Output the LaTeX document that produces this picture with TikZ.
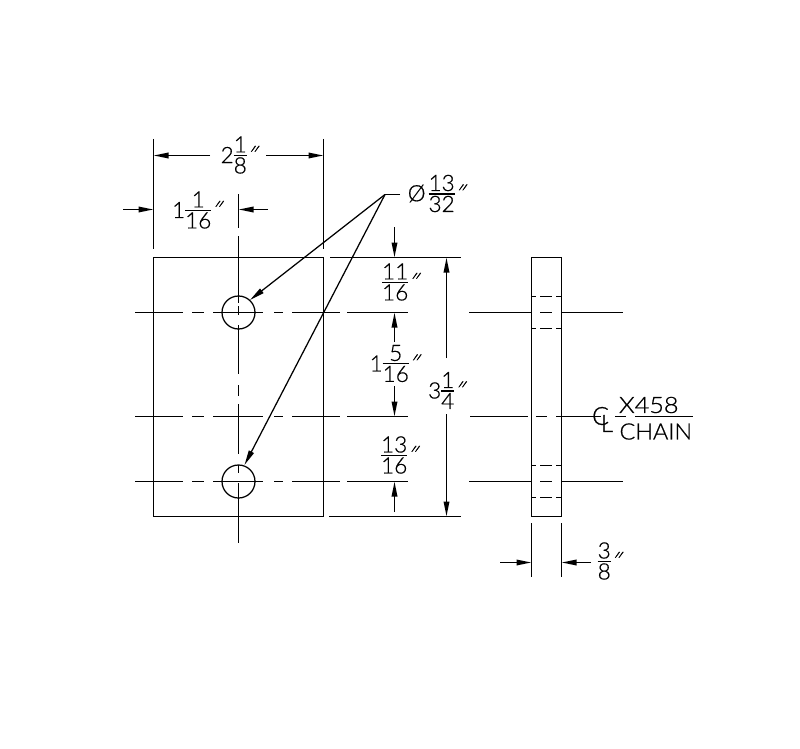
\documentclass[tikz,border=0pt]{standalone}
\usepackage{fontspec}
\usetikzlibrary{arrows.meta}
\setmainfont[FakeBold=0.6]{Lato Light}
\newfontfamily\cadmark[FakeSlant=0.45,FakeBold=1.2]{Lato Light}
\newcommand{\cadsize}{\fontsize{22.5}{24}\selectfont}
\newcommand{\cf}[2]{\ensuremath{\vcenter{\offinterlineskip\halign{\hfil##\hfil\cr
  \vrule height15pt depth2.4pt width0pt\hbox{#1}\cr
  \noalign{\hrule height1.2pt}
  \vrule height17.4pt depth0pt width0pt\hbox{#2}\cr}}}}
\newcommand{\cw}[1]{\ensuremath{\vcenter{\hbox{#1}}}}
\newcommand{\cm}{\kern-2pt\raisebox{-1pt}{\fontsize{19}{19}\selectfont\cadmark ″}}
\tikzset{
  cad/.style={line width=1.7pt,black},
  lead/.style={line width=1.25pt,black},
  dim/.style={cad,-{Triangle[length=15pt,width=5.5pt]}},
  ldr/.style={lead,-{Triangle[length=15pt,width=5.5pt]}},
  lbl/.style={inner sep=0pt,outer sep=0pt,font=\cadsize,text=black},
}
\begin{document}
\begin{tikzpicture}[x=1pt,y=-1pt]
\useasboundingbox (0,0) rectangle (800,749);
\fill[white] (0,0) rectangle (800,749);
% plate
\draw[cad] (153.5,257.5) rectangle (323.5,516.5);
\draw[lead] (238.5,312.5) circle (16.5);
\draw[lead] (238.5,481.5) circle (16.5);
% horizontal centre lines
\foreach \y in {312.5,416.5,481.5}{
  \foreach \a/\b in {135/183,192/204,213/263,274/283,292/340,347/408}{
    \draw[cad] (\a,\y) -- (\b,\y);
  }
}
% vertical centre line
\foreach \a/\b in {194/228,236/303,306/315,325/374,385/396,404/454,465/473,483/543}{
  \draw[cad] (238.5,\a) -- (238.5,\b);
}
% extension lines
\draw[cad] (153.5,139) -- (153.5,249);
\draw[cad] (323.5,139) -- (323.5,249);
\draw[cad] (330,257.5) -- (461,257.5);
\draw[cad] (329,516.5) -- (461,516.5);
\draw[cad] (531.5,523) -- (531.5,577);
\draw[cad] (561.5,523) -- (561.5,577);
% side view
\draw[cad] (531.5,257.5) rectangle (561.5,516.5);
\foreach \y in {296.5,328.5,465.5,497.5}{
  \foreach \a/\b in {531/536,540/552,556/561}{
    \draw[cad] (\a,\y) -- (\b,\y);
  }
}
\foreach \y in {312.5,481.5}{
  \draw[cad] (469,\y) -- (531,\y);
  \draw[cad] (540,\y) -- (552,\y);
  \draw[cad] (561,\y) -- (623,\y);
}
\draw[cad] (470,416.5) -- (528,416.5);
\draw[cad] (536,416.5) -- (547,416.5);
\draw[cad] (556,416.5) -- (601,416.5);
\draw[cad] (615,416.5) -- (626,416.5);
\draw[cad] (635,416.5) -- (693,416.5);
% labels
\node[lbl] (w) at (237.5,155) {\cw{2}\cf{1}{8}\cm};
\node[lbl] (h) at (195.5,210) {\cw{1}\cf{1}{16}\cm};
\node[lbl] (d) at (435,193.5) {\cw{Ø}\kern3pt\cf{13}{32}\cm};
\node[lbl] (a) at (399,282) {\cf{11}{16}\cm};
\node[lbl] (b) at (393,363.5) {\cw{1}\cf{5}{16}\cm};
\node[lbl] (c) at (445,390.5) {\cw{3}\cf{1}{4}\cm};
\node[lbl] (e) at (398,455) {\cf{13}{16}\cm};
\node[lbl] (t) at (608,561) {\cf{3}{8}\cm};
\node[lbl,font=\fontsize{25}{25}\selectfont] (cc) at (600.5,416) {C};
\node[lbl,font=\fontsize{24}{24}\selectfont] (cl) at (607,423.5) {L};
\node[lbl,anchor=west,xscale=1.12] (x) at (619,405) {X458};
\node[lbl,anchor=west,xscale=1.04] (ch) at (619.5,431.5) {CHAIN};
% dimension arrows
\coordinate (wl) at (153.5,155.5); \coordinate (wr) at (323.5,155.5);
\draw[dim] (210,155.5) -- (wl);
\draw[dim] (266,155.5) -- (wr);
\draw[dim] (123,209.5) -- (153.5,209.5);
\draw[dim] (268,209.5) -- (238.5,209.5);
\draw[dim] (394.5,227) -- (394.5,257.5);
\draw[dim] (394.5,342) -- (394.5,312.5);
\draw[dim] (394.5,386) -- (394.5,416.5);
\draw[dim] (394.5,512) -- (394.5,481.5);
\draw[dim] (446.5,358) -- (446.5,257.5);
\draw[dim] (446.5,414) -- (446.5,516.5);
\draw[dim] (500,562.5) -- (531.5,562.5);
\draw[dim] (591,562.5) -- (561.5,562.5);
% leaders
\coordinate (lead) at (385,194.5);
\draw[cad] (400,194.5) -- (lead);
\draw[ldr] (lead) -- (250,300);
\draw[ldr] (lead) -- (244.5,465);
\end{tikzpicture}
\end{document}
